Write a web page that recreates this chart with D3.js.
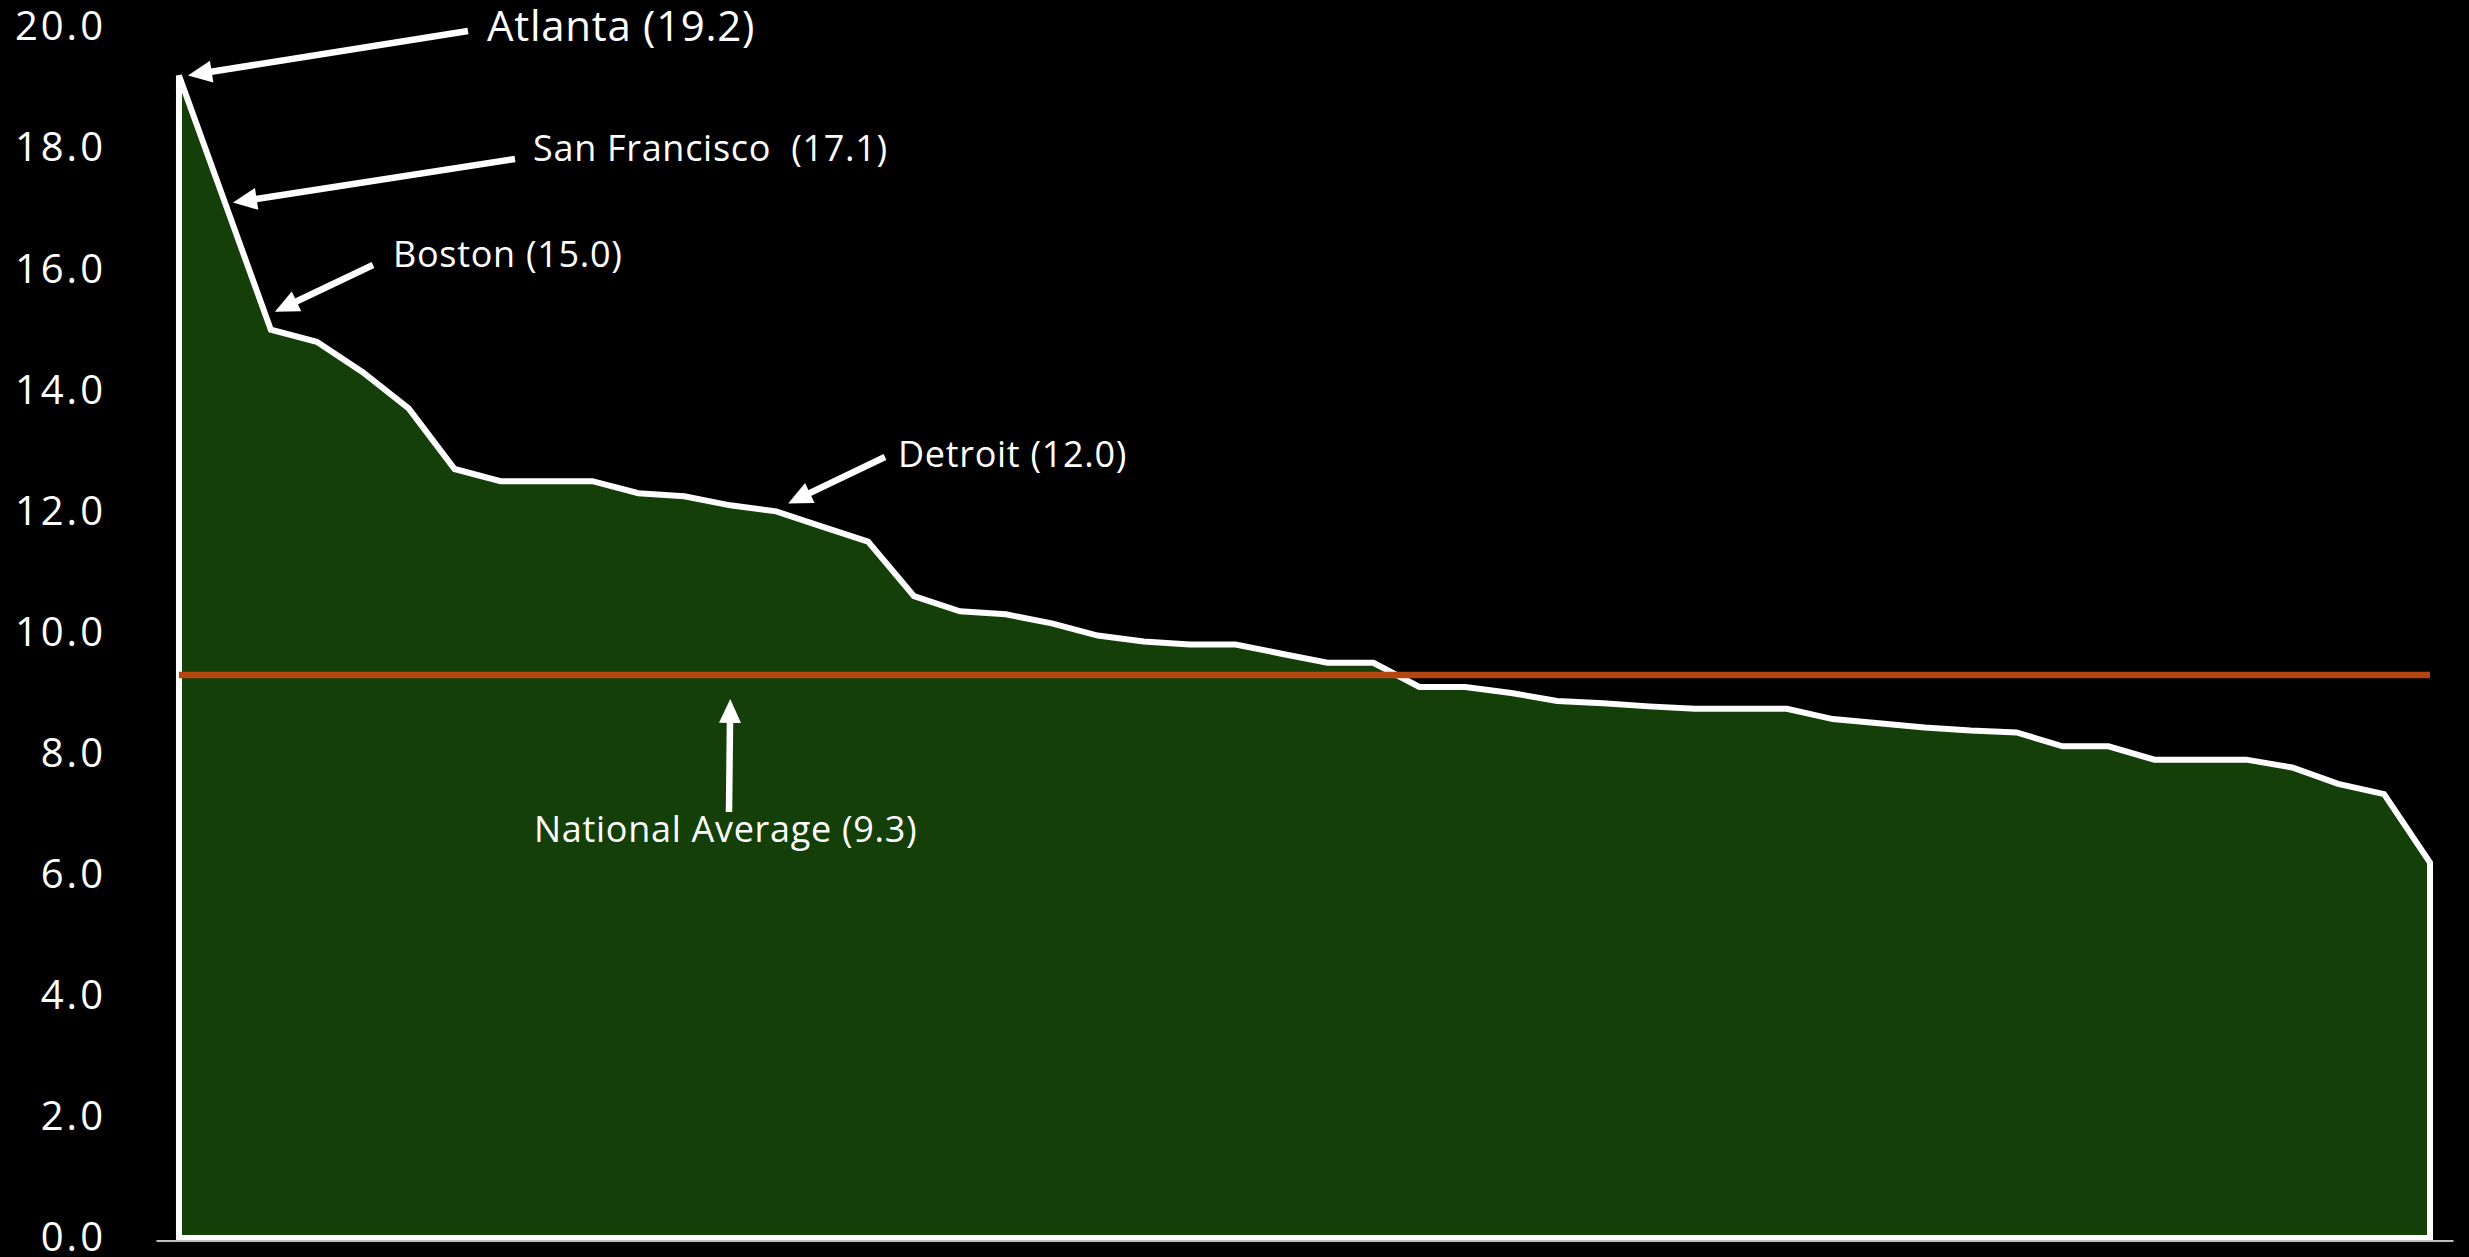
<!DOCTYPE html>
<html><head><meta charset="utf-8">
<script src="https://cdn.jsdelivr.net/npm/d3@7"></script>
<style>html,body{margin:0;padding:0;background:#000;overflow:hidden}</style>
</head><body>
<svg id="chart" width="2469" height="1257"></svg>
<script>
// ranks of the 50 metro areas (sorted descending)
const categories = ["1","2","3","4","5","6","7","8","9","10","11","12","13","14","15","16","17","18","19","20",
  "21","22","23","24","25","26","27","28","29","30","31","32","33","34","35","36","37","38","39","40",
  "41","42","43","44","45","46","47","48","49","50"];
const values = [19.2,17.1,15.0,14.8,14.3,13.7,12.7,12.5,12.5,12.5,
  12.3,12.25,12.1,12.0,11.75,11.5,10.6,10.35,10.3,10.15,
  9.95,9.85,9.8,9.8,9.65,9.5,9.5,9.1,9.1,9.0,
  8.87,8.83,8.78,8.74,8.74,8.74,8.57,8.5,8.43,8.38,
  8.35,8.12,8.12,7.9,7.9,7.9,7.77,7.5,7.33,6.2];
const yTicks = [0,2,4,6,8,10,12,14,16,18,20];
const nationalAverage = 9.3;
const annotationLabels = ["Atlanta (19.2)","San Francisco  (17.1)","Boston (15.0)","Detroit (12.0)"];
const annotationIndex = [0,1,2,13];
const averageLabel = "National Average (9.3)";
const averageArrowIndex = 12;

// layout (pixels)
const annotationLayout = [
  {tail:[468,31], text:[487,41], tipOff:[9,0], size:42},
  {tail:[515,159], text:[533,161], tipOff:[8,0], size:36},
  {tail:[373,265], text:[393,267], tipOff:[4,-18], size:36},
  {tail:[885,457], text:[898,467], tipOff:[12,-8], size:36}
];
const averageLayout = {tail:[729,812], tipOffY:24, text:[534,842]};

const svg = d3.select("#chart");
const x = d3.scalePoint().domain(categories).range([156,2453]).padding(0.5);
const y = d3.scaleLinear().domain([0,20]).range([1238,27]);

const FONT = "'Open Sans', 'Noto Sans', sans-serif";

// area
const area = d3.area()
  .x((d,i)=>x(categories[i]))
  .y0(y(0))
  .y1(d=>y(d));
svg.append("path").datum(values)
  .attr("d", area)
  .attr("fill","#143f08")
  .attr("stroke","#ffffff")
  .attr("stroke-width",6)
  .attr("stroke-linejoin","miter")
  .attr("stroke-miterlimit",2.5);

// national average line
svg.append("line")
  .attr("x1", x(categories[0])).attr("x2", x(categories[categories.length-1]))
  .attr("y1", y(nationalAverage)).attr("y2", y(nationalAverage))
  .attr("stroke","#b5460f").attr("stroke-width",6.5);

// bottom axis
const xAxis = svg.append("g")
  .attr("transform", `translate(0,${y(0)+2.5})`)
  .call(d3.axisBottom(x).tickValues([]).tickSizeOuter(0));
xAxis.select(".domain").attr("stroke","#bfbfbf").attr("stroke-width",2);

// left axis
const yAxis = svg.append("g")
  .attr("transform","translate(106,0)")
  .call(d3.axisLeft(y).tickValues(yTicks).tickFormat(d3.format(".1f")).tickSize(0).tickPadding(0));
yAxis.select(".domain").remove();
yAxis.selectAll("text")
  .attr("fill","#ffffff")
  .style("font-family",FONT)
  .style("font-size","40px")
  .style("letter-spacing","3px");

// arrows
function arrow(x1,y1,x2,y2){
  const dx=x2-x1, dy=y2-y1, L=Math.hypot(dx,dy);
  const ux=dx/L, uy=dy/L, px=-uy, py=ux;
  const hl=24, hw=11;
  const bx=x2-ux*hl, by=y2-uy*hl;
  svg.append("line").attr("x1",x1).attr("y1",y1).attr("x2",bx+ux*2).attr("y2",by+uy*2)
    .attr("stroke","#fff").attr("stroke-width",6.5);
  svg.append("path")
    .attr("d",`M${x2},${y2}L${bx+px*hw},${by+py*hw}L${bx-px*hw},${by-py*hw}Z`)
    .attr("fill","#fff");
}

annotationIndex.forEach((idx,k)=>{
  const L = annotationLayout[k];
  const tx = x(categories[idx]) + L.tipOff[0];
  const ty = y(values[idx]) + L.tipOff[1];
  arrow(L.tail[0], L.tail[1], tx, ty);
  svg.append("text")
    .attr("x",L.text[0]).attr("y",L.text[1])
    .attr("fill","#fff")
    .style("font-family",FONT).style("font-size",L.size+"px")
    .style("letter-spacing","0.7px").style("white-space","pre")
    .text(annotationLabels[k]);
});

arrow(averageLayout.tail[0], averageLayout.tail[1],
      x(categories[averageArrowIndex]), y(nationalAverage)+averageLayout.tipOffY);
svg.append("text")
  .attr("x",averageLayout.text[0]).attr("y",averageLayout.text[1])
  .attr("fill","#fff")
  .style("font-family",FONT).style("font-size","36px")
  .style("letter-spacing","0.7px")
  .text(averageLabel);
</script>
</body></html>
